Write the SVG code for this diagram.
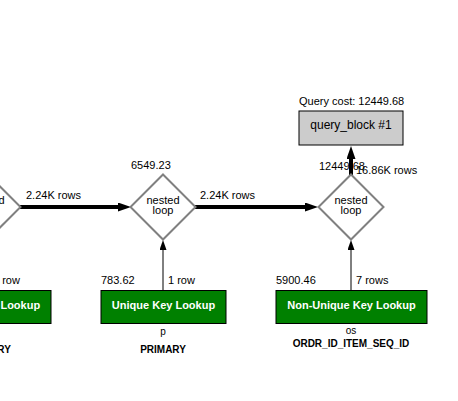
<svg xmlns="http://www.w3.org/2000/svg" width="458" height="401" viewBox="0 0 458 401">
<style>
text{font-family:"Liberation Sans",Arial,sans-serif;font-size:11px;fill:#000}
.lbl{font-size:11px}
.box{fill:#008000;stroke:#000;stroke-width:1}
.boxt{font-weight:bold;fill:#fff;text-anchor:middle}
.qb{fill:#cccccc;stroke:#000;stroke-width:1}
.qbt{font-size:12px;text-anchor:middle}
.dia{fill:#fff;stroke:#808080;stroke-width:2}
.diat{text-anchor:middle}
.tbl{font-size:10px;text-anchor:middle}
.key{font-size:10px;font-weight:bold;text-anchor:middle}
.thick{stroke:#000;stroke-width:4;fill:none}
.thin{stroke:#000;stroke-width:1;fill:none}
</style>
<defs>
<marker id="ah" viewBox="0 0 13 9" refX="3" refY="4.5" markerWidth="13" markerHeight="9" markerUnits="userSpaceOnUse" orient="auto"><path d="M0,0 L13,4.5 L0,9 Z" fill="#000"/></marker>
<marker id="as" viewBox="0 0 10 7" refX="2" refY="3.5" markerWidth="10" markerHeight="7" markerUnits="userSpaceOnUse" orient="auto"><path d="M0,0 L10,3.5 L0,7 Z" fill="#000"/></marker>
</defs>
<rect width="458" height="401" fill="#fff"/>
<g id="connectors">
<line class="thick" x1="20" y1="207" x2="121" y2="207" marker-end="url(#ah)"/>
<line class="thick" x1="195" y1="207" x2="308" y2="207" marker-end="url(#ah)"/>
<line class="thick" x1="351" y1="175" x2="351" y2="156" marker-end="url(#ah)"/>
<line class="thin" x1="163" y1="290" x2="163" y2="248" marker-end="url(#as)"/>
<line class="thin" x1="351" y1="290" x2="351" y2="248" marker-end="url(#as)"/>
<line class="thin" x1="-12" y1="290" x2="-12" y2="248" marker-end="url(#as)"/>
<text x="26" y="199">2.24K rows</text>
<text x="200" y="199">2.24K rows</text>
<text x="356" y="174">16.86K rows</text>
<text x="168" y="284">1 row</text>
<text x="356" y="284">7 rows</text>
<text x="-7" y="284">1 row</text>
</g>
<g id="query_block">
<text x="299" y="105">Query cost: 12449.68</text>
<rect class="qb" x="299" y="111" width="104" height="34"/>
<text class="qbt" x="351" y="129">query_block #1</text>
</g>
<g id="nested_loop_1">
<polygon class="dia" points="-12,174.5 20.5,207 -12,239.5 -44.5,207"/>
<text class="diat" x="-12" y="204">nested</text>
<text class="diat" x="-12" y="214">loop</text>
</g>
<g id="nested_loop_2">
<text x="131" y="169">6549.23</text>
<polygon class="dia" points="163,174.5 195.5,207 163,239.5 130.5,207"/>
<text class="diat" x="163" y="204">nested</text>
<text class="diat" x="163" y="214">loop</text>
</g>
<g id="nested_loop_3">
<polygon class="dia" points="351,174.5 383.5,207 351,239.5 318.5,207"/>
<text class="diat" x="351" y="204">nested</text>
<text class="diat" x="351" y="214">loop</text>
<text x="319" y="170">12449.68</text>
</g>
<g id="table_left">
<rect class="box" x="-74" y="290.5" width="125" height="33"/>
<text class="boxt" x="-11.5" y="309">Unique Key Lookup</text>
<text class="key" x="-12" y="353">PRIMARY</text>
</g>
<g id="table_p">
<text x="101" y="284">783.62</text>
<rect class="box" x="101" y="290.5" width="125" height="33"/>
<text class="boxt" x="163.5" y="309">Unique Key Lookup</text>
<text class="tbl" x="163" y="335">p</text>
<text class="key" x="163" y="353">PRIMARY</text>
</g>
<g id="table_os">
<text x="276" y="284">5900.46</text>
<rect class="box" x="276" y="290.5" width="151" height="33"/>
<text class="boxt" x="351.5" y="309">Non-Unique Key Lookup</text>
<text class="tbl" x="351" y="334">os</text>
<text class="key" x="351" y="347">ORDR_ID_ITEM_SEQ_ID</text>
</g>
</svg>
